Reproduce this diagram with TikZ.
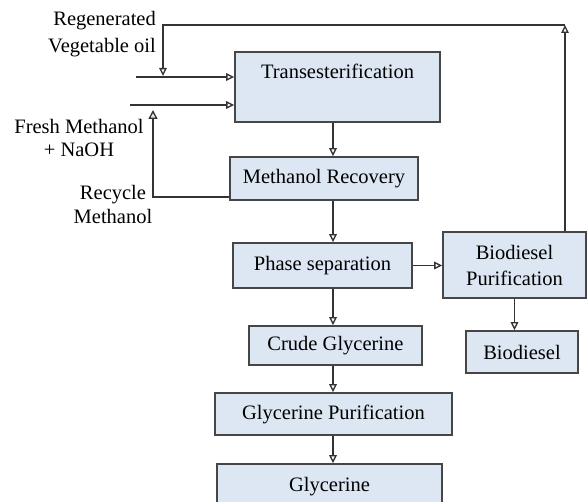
\documentclass[tikz,border=0pt]{standalone}
\usepackage{fontspec}
\setmainfont{Liberation Serif}
\usetikzlibrary{arrows.meta, calc}
\definecolor{boxfill}{RGB}{220,231,243}
\definecolor{boxline}{RGB}{70,70,70}

\begin{document}
\begin{tikzpicture}[x=1pt, y=-1pt,
    box/.style={
        rectangle, draw=boxline, fill=boxfill, line width=1.6pt,
        inner sep=0pt, text centered, font=\fontsize{20.5}{26}\selectfont
    },
    lbl/.style={inner sep=0pt, font=\fontsize{20.5}{24}\selectfont},
    arrow/.style={-{Triangle[open, length=8pt, width=7.5pt]}, line width=1.3pt, black!80}
]
    \useasboundingbox (0,0) rectangle (587,502);
    \clip (0,0) rectangle (587,502);

    \node[box, minimum width=205pt, text height=27pt, text depth=43pt] (trans) at (337.5,87) {Transesterification};
    \node[box, minimum width=188pt, minimum height=43pt] (mrec)  at (324,178.5)   {Methanol Recovery};
    \node[box, minimum width=179pt, minimum height=45pt] (phase) at (322.5,265.5) {Phase separation};
    \node[box, minimum width=143pt, minimum height=66pt, align=center] (biop) at (514.5,265) {Biodiesel\\Purification};
    \node[box, minimum width=112pt, minimum height=42pt] (biod)  at (522,352)     {Biodiesel};
    \node[box, minimum width=173pt, minimum height=39pt] (crude) at (335.5,345.5) {Crude Glycerine};
    \node[box, minimum width=237pt, minimum height=42pt] (glyp)  at (333.5,414)   {Glycerine Purification};
    \node[box, minimum width=225pt, minimum height=46pt] (glyc)  at (329.5,487)   {Glycerine};

    \node[lbl, align=right, anchor=east, font=\fontsize{20.5}{27}\selectfont] (oil) at (156,34.5) {Regenerated\\Vegetable oil};
    \node[lbl, align=center, font=\fontsize{20.5}{23}\selectfont] (fresh) at (79,137.5) {Fresh Methanol\\+ NaOH};
    \node[lbl, align=center] (recy) at (113,204) {Recycle\\Methanol};

    \coordinate (axis)    at (333,0);
    \coordinate (oilin)   at (136,77);
    \coordinate (methin)  at (130,105);
    \coordinate (looptop) at (565,25);
    \coordinate (oildrop) at (163,76);
    \coordinate (rec)     at (153,197);
    \coordinate (recup)   at (153,110);

    % main flow
    \foreach \i/\j in {trans/mrec, mrec/phase, phase/crude, crude/glyp, glyp/glyc} {
        \draw[arrow] (\i.south -| axis) -- (\j.north -| axis);
    }
    \draw[arrow] (phase.east) -- (phase.east -| biop.west);
    \draw[arrow] (biop.south) -- (biop.south |- biod.north);

    % feeds
    \draw[arrow] (oilin) -- (oilin -| trans.west);
    \draw[arrow] (methin) -- (methin -| trans.west);

    % loops
    \draw[arrow] (biop.north -| looptop) -- (looptop);
    \draw[arrow] (looptop) -| (oildrop);
    \draw[-{Triangle[open, fill=boxfill, length=9pt, width=9pt]}, line width=1.3pt, black!80]
        (mrec.west |- rec) -| (recup);
\end{tikzpicture}
\end{document}
